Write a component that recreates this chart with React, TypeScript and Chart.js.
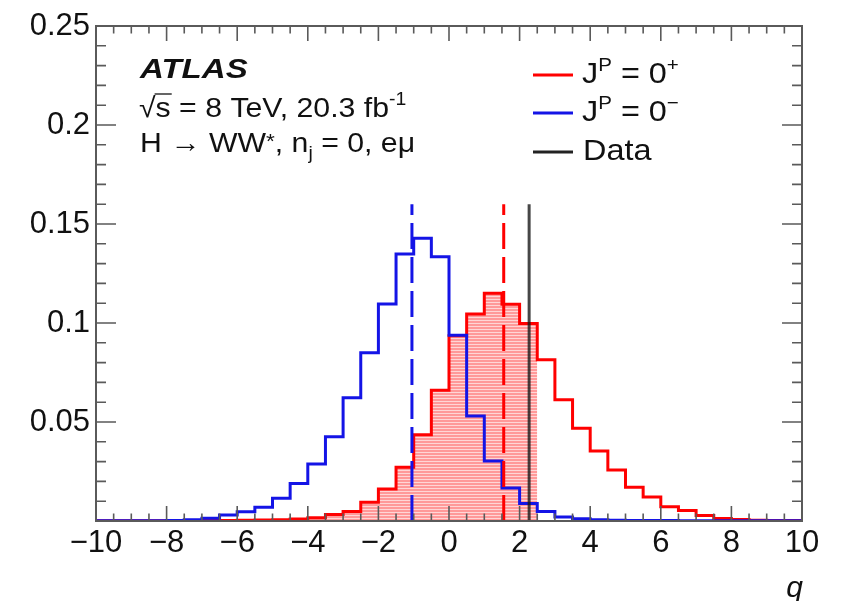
import React, { useEffect, useRef } from 'react';
import { Chart, registerables } from 'chart.js';

Chart.register(...registerables);

// ---------- data ----------
const binLow = -10;
const binWidth = 0.5;

// J^P = 0+ pseudo-experiment distribution (40 bins of width 0.5 from -10 to 10)
const spin0plus = [
  0.0001, 0.0001, 0.0001, 0.0001, 0.0002, 0.0002, 0.0003, 0.0003, 0.0004, 0.0005,
  0.0006, 0.0010, 0.0016, 0.0033, 0.0048, 0.0095, 0.0162, 0.0272, 0.0435, 0.0660,
  0.0935, 0.1045, 0.1150, 0.1095, 0.0998, 0.0815, 0.0613, 0.0468, 0.0354, 0.0258,
  0.0170, 0.0121, 0.0072, 0.0053, 0.0028, 0.0012, 0.0007, 0.0004, 0.0003, 0.0002,
];

// J^P = 0- pseudo-experiment distribution
const spin0minus = [
  0.0001, 0.0001, 0.0001, 0.0001, 0.0002, 0.0006, 0.0014, 0.0030, 0.0047, 0.0070,
  0.0115, 0.0190, 0.0288, 0.0425, 0.0622, 0.0850, 0.1096, 0.1348, 0.1428, 0.1334,
  0.0938, 0.0530, 0.0303, 0.0167, 0.0088, 0.0048, 0.0020, 0.0011, 0.0006, 0.0004,
  0.0002, 0.0002, 0.0002, 0.0001, 0.0001, 0.0001, 0.0001, 0.0001, 0.0001, 0.0001,
];

const medianMinus = -1.05;
const medianPlus = 1.55;
const observedQ = 2.27;
const markerTop = 0.16;
const shadeUntil = 2.5;

const xTickValues = [-10, -8, -6, -4, -2, 0, 2, 4, 6, 8, 10];
const yTickValues = [0.05, 0.1, 0.15, 0.2, 0.25];

// ---------- helpers ----------
const FONT = "'Liberation Sans', Arial, Helvetica, sans-serif";
const RED = '#ff0000';
const BLUE = '#1414e6';
const STRETCH = 1.08;

function histPoints(vals: number[]) {
  const pts = vals.map((v, i) => ({ x: binLow + i * binWidth, y: v }));
  pts.push({ x: binLow + vals.length * binWidth, y: vals[vals.length - 1] });
  return pts;
}

function shadePoints(vals: number[], end: number) {
  const pts: { x: number; y: number }[] = [];
  for (let i = 0; i < vals.length; i++) {
    const x = binLow + i * binWidth;
    if (x >= end - 1e-9) break;
    pts.push({ x, y: vals[i] });
  }
  pts.push({ x: end, y: 0 });
  return pts;
}

function makeHatch(): CanvasPattern | string {
  const c = document.createElement('canvas');
  c.width = 8;
  c.height = 3;
  const g = c.getContext('2d');
  if (!g) return 'rgba(255,0,0,0.35)';
  g.fillStyle = 'rgba(255,0,0,0.40)';
  g.fillRect(0, 0, 8, 2);
  g.fillStyle = 'rgba(255,0,0,0.16)';
  g.fillRect(0, 2, 8, 1);
  const p = g.createPattern(c, 'repeat');
  return p || 'rgba(255,0,0,0.35)';
}

type Part = { t: string; size: number; dy?: number; style?: string };

// draws text parts left to right with a slight horizontal stretch
function drawRich(ctx: CanvasRenderingContext2D, x: number, base: number, parts: Part[], stretch = STRETCH) {
  ctx.save();
  ctx.translate(x, base);
  ctx.scale(stretch, 1);
  let cx = 0;
  const pos: number[] = [];
  for (const p of parts) {
    ctx.font = `${p.style ? p.style + ' ' : ''}${p.size}px ${FONT}`;
    pos.push(x + cx * stretch);
    ctx.fillText(p.t, cx, p.dy || 0);
    cx += ctx.measureText(p.t).width;
  }
  pos.push(x + cx * stretch);
  ctx.restore();
  return pos;
}

const decorPlugin = {
  id: 'decor',
  afterDraw(chart: any) {
    const { ctx, chartArea: a, scales } = chart;
    const xs = scales.x;
    const ys = scales.y;
    ctx.save();
    ctx.strokeStyle = '#5a5a5a';
    ctx.lineCap = 'butt';

    // inward ticks on all four sides
    ctx.lineWidth = 1.6;
    ctx.beginPath();
    for (let k = 0; k <= 40; k++) {
      const v = binLow + k * binWidth;
      const px = xs.getPixelForValue(v);
      const len = k % 4 === 0 ? 15 : 7.5;
      ctx.moveTo(px, a.bottom);
      ctx.lineTo(px, a.bottom - len);
      ctx.moveTo(px, a.top);
      ctx.lineTo(px, a.top + len);
    }
    for (let k = 0; k <= 25; k++) {
      const py = ys.getPixelForValue(k * 0.01);
      const len = k % 5 === 0 ? 20 : 10;
      ctx.moveTo(a.left, py);
      ctx.lineTo(a.left + len, py);
      ctx.moveTo(a.right, py);
      ctx.lineTo(a.right - len, py);
    }
    ctx.stroke();

    // frame
    ctx.lineWidth = 2;
    ctx.strokeRect(a.left, a.top, a.right - a.left, a.bottom - a.top);

    // labels
    ctx.fillStyle = '#111111';
    ctx.textBaseline = 'alphabetic';
    ctx.textAlign = 'left';
    drawRich(ctx, 140, 78, [{ t: 'ATLAS', size: 28, style: 'bold italic' }], 1.18);

    const p2 = drawRich(ctx, 139, 117, [
      { t: '\u221A', size: 28 },
      { t: 's', size: 28 },
      { t: ' = 8 TeV, 20.3 fb', size: 28 },
      { t: '-1', size: 18, dy: -12 },
    ]);
    ctx.strokeStyle = '#111111';
    ctx.lineWidth = 1.3;
    ctx.beginPath();
    ctx.moveTo(p2[1] - 1, 117 - 23);
    ctx.lineTo(p2[2] + 1, 117 - 23);
    ctx.stroke();

    drawRich(ctx, 140, 152, [
      { t: 'H \u2192 WW', size: 28 },
      { t: '*', size: 21, dy: -4 },
      { t: ', n', size: 28 },
      { t: 'j', size: 18, dy: 7 },
      { t: ' = 0, e\u03BC', size: 28 },
    ]);

    // legend
    const legend = [
      { color: RED, y: 75, sup: '+' },
      { color: BLUE, y: 113, sup: '\u2212' },
      { color: '#222222', y: 152, sup: null as string | null },
    ];
    for (const L of legend) {
      ctx.strokeStyle = L.color;
      ctx.lineWidth = 3;
      ctx.beginPath();
      ctx.moveTo(533, L.y);
      ctx.lineTo(573, L.y);
      ctx.stroke();
      ctx.fillStyle = '#111111';
      if (L.sup) {
        drawRich(ctx, 582, L.y + 8, [
          { t: 'J', size: 30 },
          { t: 'P', size: 19, dy: -12 },
          { t: ' = 0', size: 30 },
          { t: L.sup, size: 19, dy: -12 },
        ]);
      } else {
        drawRich(ctx, 583, L.y + 8, [{ t: 'Data', size: 30 }]);
      }
    }

    // axis title
    ctx.textAlign = 'right';
    ctx.font = `italic 30px ${FONT}`;
    ctx.fillText('q', 803, 597);
    ctx.restore();
  },
};

export default function App() {
  const ref = useRef<HTMLCanvasElement | null>(null);

  useEffect(() => {
    document.body.style.margin = '0';
    const canvas = ref.current;
    if (!canvas) return;
    const hatch = makeHatch();

    const chart = new Chart(canvas, {
      type: 'line',
      data: {
        datasets: [
          {
            label: 'Data',
            data: [
              { x: observedQ, y: 0 },
              { x: observedQ, y: markerTop },
            ],
            borderColor: 'rgba(25,25,25,0.8)',
            borderWidth: 3,
            pointRadius: 0,
            fill: false,
            order: 1,
          },
          {
            label: 'median 0-',
            data: [
              { x: medianMinus, y: 0 },
              { x: medianMinus, y: markerTop },
            ],
            borderColor: BLUE,
            borderWidth: 3,
            borderDash: [26, 8],
            pointRadius: 0,
            fill: false,
            order: 2,
          },
          {
            label: 'median 0+',
            data: [
              { x: medianPlus, y: 0 },
              { x: medianPlus, y: markerTop },
            ],
            borderColor: RED,
            borderWidth: 3,
            borderDash: [26, 8],
            pointRadius: 0,
            fill: false,
            order: 3,
          },
          {
            label: 'J^P = 0-',
            data: histPoints(spin0minus),
            stepped: 'before',
            borderColor: BLUE,
            borderWidth: 3,
            pointRadius: 0,
            fill: false,
            order: 4,
          },
          {
            label: 'J^P = 0+',
            data: histPoints(spin0plus),
            stepped: 'before',
            borderColor: RED,
            borderWidth: 3,
            pointRadius: 0,
            fill: false,
            order: 5,
          },
          {
            label: 'shade',
            data: shadePoints(spin0plus, shadeUntil),
            stepped: 'before',
            borderWidth: 0,
            borderColor: 'rgba(0,0,0,0)',
            backgroundColor: hatch as any,
            pointRadius: 0,
            fill: 'origin',
            order: 6,
          },
        ],
      },
      options: {
        animation: false,
        responsive: false,
        maintainAspectRatio: false,
        layout: { padding: { top: 26, right: 43, left: 0, bottom: 0 } },
        plugins: {
          legend: { display: false },
          tooltip: { enabled: false },
        },
        scales: {
          x: {
            type: 'linear',
            min: -10,
            max: 10,
            afterFit: (s: any) => {
              s.height = 80;
            },
            afterBuildTicks: (s: any) => {
              s.ticks = xTickValues.map((v) => ({ value: v }));
            },
            grid: { display: false, drawTicks: false },
            border: { display: false },
            ticks: {
              padding: 4,
              color: '#111111',
              font: { family: FONT, size: 31 },
              maxRotation: 0,
              autoSkip: false,
              callback: (v: any) => (Number(v) < 0 ? '\u2212' + Math.abs(Number(v)) : String(v)),
            },
          },
          y: {
            type: 'linear',
            min: 0,
            max: 0.25,
            afterFit: (s: any) => {
              s.width = 96;
            },
            afterBuildTicks: (s: any) => {
              s.ticks = yTickValues.map((v) => ({ value: v }));
            },
            grid: { display: false, drawTicks: false },
            border: { display: false },
            ticks: {
              padding: 6,
              color: '#111111',
              font: { family: FONT, size: 31 },
              autoSkip: false,
              callback: (v: any) => String(Number(Number(v).toFixed(2))),
            },
          },
        },
      },
      plugins: [decorPlugin],
    });
    return () => chart.destroy();
  }, []);

  return <canvas ref={ref} width={845} height={601} style={{ display: 'block', width: 845, height: 601 }} />;
}
